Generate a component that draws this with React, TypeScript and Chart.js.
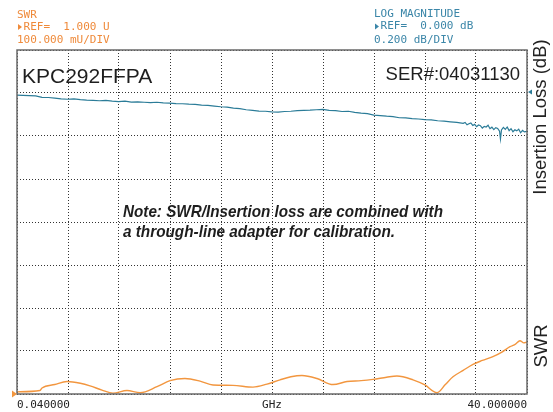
import { useEffect, useRef } from "react";
import { Chart, registerables } from "chart.js";

Chart.register(...registerables);

// ---- Data ----
const freqStart = 0.04;
const freqStop = 40;

const swrFreq = [0.04, 1.84, 2.0, 3.0, 3.96, 5.0, 5.76, 6.7, 7.56, 8.66, 9.68, 11.01, 12.03, 13.2, 14.38, 15.4, 16.96, 18.53, 19.63, 20.65, 21.5, 22.37, 23.55, 24.8, 25.9, 27.0, 27.93, 29.0, 29.81, 31.07, 32.0, 32.95, 33.6, 34.2, 35.0, 35.77, 36.5, 37.33, 38.0, 38.67, 39.1, 39.45, 39.75, 40.0];
const swrValues = [1.005, 1.008, 1.014, 1.022, 1.029, 1.025, 1.019, 1.009, 1.002, 1.008, 1.003, 1.017, 1.031, 1.036, 1.030, 1.021, 1.020, 1.016, 1.023, 1.033, 1.040, 1.043, 1.036, 1.022, 1.029, 1.031, 1.034, 1.039, 1.042, 1.033, 1.021, 1.003, 1.022, 1.040, 1.055, 1.069, 1.078, 1.087, 1.097, 1.110, 1.116, 1.124, 1.119, 1.121];

const ilFreq = [0.04, 0.5, 1.0, 1.5, 2.0, 2.5, 3.0, 3.5, 4.0, 4.5, 5.0, 5.5, 6.0, 6.5, 7.0, 7.5, 8.0, 8.5, 9.0, 9.5, 10.0, 10.5, 11.0, 11.5, 12.0, 12.5, 13.0, 13.5, 14.0, 14.5, 15.0, 15.5, 16.0, 16.5, 17.0, 17.5, 18.0, 18.5, 19.0, 19.5, 20.0, 20.5, 21.0, 21.5, 22.0, 22.5, 23.0, 23.5, 24.0, 24.5, 25.0, 25.5, 26.0, 26.5, 27.0, 27.5, 28.0, 28.5, 29.0, 29.5, 30.0, 30.5, 31.0, 31.5, 32.0, 32.5, 33.0, 33.5, 34.0, 34.5, 35.0, 35.15, 35.3, 35.45, 35.6, 35.75, 35.9, 36.05, 36.2, 36.35, 36.5, 36.65, 36.8, 36.95, 37.1, 37.25, 37.4, 37.55, 37.7, 37.85, 37.92, 38.0, 38.15, 38.3, 38.45, 38.6, 38.75, 38.9, 39.05, 39.2, 39.35, 39.5, 39.65, 39.8, 40.0];
const ilValues = [-0.010, -0.011, -0.012, -0.013, -0.020, -0.021, -0.024, -0.027, -0.029, -0.027, -0.031, -0.033, -0.034, -0.036, -0.034, -0.038, -0.040, -0.038, -0.042, -0.041, -0.043, -0.045, -0.043, -0.046, -0.047, -0.049, -0.050, -0.052, -0.053, -0.056, -0.058, -0.061, -0.064, -0.066, -0.070, -0.073, -0.078, -0.081, -0.084, -0.085, -0.088, -0.089, -0.086, -0.085, -0.082, -0.081, -0.080, -0.078, -0.076, -0.081, -0.082, -0.086, -0.085, -0.090, -0.094, -0.096, -0.103, -0.105, -0.108, -0.110, -0.115, -0.116, -0.119, -0.121, -0.124, -0.125, -0.129, -0.131, -0.134, -0.137, -0.141, -0.137, -0.148, -0.143, -0.139, -0.151, -0.146, -0.157, -0.149, -0.152, -0.163, -0.155, -0.158, -0.150, -0.166, -0.159, -0.170, -0.161, -0.165, -0.178, -0.214, -0.172, -0.160, -0.169, -0.158, -0.175, -0.166, -0.180, -0.171, -0.176, -0.168, -0.185, -0.174, -0.181, -0.178];

const swrRef = 1.0;
const swrPerDiv = 0.1;
const ilRef = 0.0;
const ilPerDiv = 0.2;

const swrHeader = ["SWR", "REF=  1.000 U", "100.000 mU/DIV"];
const ilHeader = ["LOG MAGNITUDE", "REF=  0.000 dB", "0.200 dB/DIV"];
const xLabels = ["0.040000", "GHz", "40.000000"];
const modelText = "KPC292FFPA";
const serialText = "SER#:04031130";
const noteLines = ["Note: SWR/Insertion loss are combined with", "a through-line adapter for calibration."];
const ilAxisTitle = "Insertion Loss (dB)";
const swrAxisTitle = "SWR";

const ORANGE = "#f2963f";
const ORANGE_TXT = "#ef8a3a";
const TEAL = "#2b7c98";
const TEAL_TXT = "#3b86a8";
const MONO = '"DejaVu Sans Mono", monospace';
const SANS = '"Liberation Sans", Arial, sans-serif';

export default function App() {
  const ref = useRef<HTMLCanvasElement | null>(null);

  useEffect(() => {
    const canvas = ref.current;
    if (!canvas) return;

    const overlay = {
      id: "overlay",
      beforeDraw(chart: any) {
        const c = chart.ctx;
        c.save();
        c.fillStyle = "#ffffff";
        c.fillRect(0, 0, chart.width, chart.height);
        c.restore();
      },
      afterDraw(chart: any) {
        const c = chart.ctx as CanvasRenderingContext2D;
        const a = chart.chartArea;
        const ySWR = chart.scales.ySWR;
        const yIL = chart.scales.yIL;
        c.save();
        // frame
        c.strokeStyle = "#6a6a6a";
        c.lineWidth = 1.5;
        c.strokeRect(a.left, a.top, a.right - a.left, a.bottom - a.top);

        // headers
        c.font = `11px ${MONO}`;
        c.textBaseline = "middle";
        c.textAlign = "left";
        const cw = c.measureText("0").width;
        const hy = [15, 27, 40];
        const tri = (x: number, y: number, dir: number, w: number, h: number, col: string) => {
          c.fillStyle = col;
          c.beginPath();
          c.moveTo(x + dir * w, y);
          c.lineTo(x, y - h);
          c.lineTo(x, y + h);
          c.closePath();
          c.fill();
        };
        c.fillStyle = ORANGE_TXT;
        c.fillText(swrHeader[0], 17, hy[0]);
        tri(18, hy[1], 1, 4, 3, ORANGE_TXT);
        c.fillStyle = ORANGE_TXT;
        c.fillText(swrHeader[1], 17 + cw, hy[1]);
        c.fillText(swrHeader[2], 17, hy[2]);

        const hx = 374;
        c.fillStyle = TEAL_TXT;
        c.fillText(ilHeader[0], hx, 14);
        tri(hx + 1, 26.5, 1, 4, 3, TEAL_TXT);
        c.fillStyle = TEAL_TXT;
        c.fillText(ilHeader[1], hx + cw, 26.5);
        c.fillText(ilHeader[2], hx, 40);

        // x labels
        c.fillStyle = "#222";
        c.textAlign = "left";
        c.fillText(xLabels[0], a.left, 405);
        c.textAlign = "center";
        c.fillText(xLabels[1], (a.left + a.right) / 2, 405);
        c.textAlign = "right";
        c.fillText(xLabels[2], a.right, 405);

        // reference markers
        tri(a.left - 5, ySWR.getPixelForValue(swrRef), 1, 5, 3.5, ORANGE);
        tri(a.right + 5, yIL.getPixelForValue(ilRef) - 1, -4, 1, 2.5, TEAL);

        // model and serial
        c.fillStyle = "#1e1e1e";
        c.textBaseline = "alphabetic";
        c.textAlign = "left";
        c.font = `21px ${SANS}`;
        c.fillText(modelText, 22, 83);
        c.textAlign = "right";
        c.font = `18.5px ${SANS}`;
        c.fillText(serialText, 520, 80);

        // note
        c.font = `italic bold 17px ${SANS}`;
        c.textAlign = "left";
        c.textBaseline = "middle";
        const targets = [320, 272];
        const ny = [212, 232];
        noteLines.forEach((t, i) => {
          const w = c.measureText(t).width;
          c.save();
          c.translate(123, ny[i]);
          c.scale(targets[i] / w, 1);
          c.fillText(t, 0, 0);
          c.restore();
        });

        // rotated axis titles
        c.fillStyle = "#222";
        c.textAlign = "center";
        c.textBaseline = "middle";
        c.font = `18.5px ${SANS}`;
        c.save();
        c.translate(541, 117);
        c.rotate(-Math.PI / 2);
        c.fillText(ilAxisTitle, 0, 0);
        c.restore();
        c.save();
        c.translate(542, 346);
        c.rotate(-Math.PI / 2);
        c.fillText(swrAxisTitle, 0, 0);
        c.restore();

        c.restore();
      },
    };

    const xTicks = Array.from({ length: 11 }, (_, i) => freqStart + (i * (freqStop - freqStart)) / 10);
    const swrTicks = Array.from({ length: 9 }, (_, i) => swrRef + i * swrPerDiv);

    const chart = new Chart(canvas, {
      type: "line",
      data: {
        datasets: [
          {
            label: "Insertion Loss",
            data: ilFreq.map((f, i) => ({ x: f, y: ilValues[i] })),
            yAxisID: "yIL",
            borderColor: TEAL,
            borderWidth: 1.2,
            pointRadius: 0,
            tension: 0,
          },
          {
            label: "SWR",
            data: swrFreq.map((f, i) => ({ x: f, y: swrValues[i] })),
            yAxisID: "ySWR",
            borderColor: ORANGE,
            borderWidth: 1.4,
            pointRadius: 0,
            cubicInterpolationMode: "monotone",
          },
        ],
      },
      options: {
        responsive: false,
        animation: false,
        events: [],
        layout: { padding: { left: 17, top: 50, right: 26, bottom: 18 } },
        plugins: { legend: { display: false }, tooltip: { enabled: false } },
        scales: {
          x: {
            type: "linear",
            min: freqStart,
            max: freqStop,
            afterBuildTicks: (s: any) => {
              s.ticks = xTicks.map((v) => ({ value: v }));
            },
            ticks: { display: false },
            grid: { color: "#333", lineWidth: 1, drawTicks: false },
            border: { display: false, dash: [1, 2] },
          },
          ySWR: {
            type: "linear",
            position: "left",
            min: swrRef,
            max: swrRef + 8 * swrPerDiv,
            afterBuildTicks: (s: any) => {
              s.ticks = swrTicks.map((v) => ({ value: v }));
            },
            ticks: { display: false },
            grid: { color: "#333", lineWidth: 1, drawTicks: false },
            border: { display: false, dash: [1, 2] },
          },
          yIL: {
            type: "linear",
            position: "right",
            min: ilRef - 7 * ilPerDiv,
            max: ilRef + ilPerDiv,
            ticks: { display: false },
            grid: { drawOnChartArea: false, drawTicks: false },
            border: { display: false },
          },
        },
      },
      plugins: [overlay],
    } as any);

    return () => chart.destroy();
  }, []);

  return (
    <div style={{ position: "fixed", left: 0, top: 0, width: 553, height: 412, background: "#fff" }}>
      <canvas ref={ref} width={553} height={412} style={{ display: "block", width: 553, height: 412 }} />
    </div>
  );
}
